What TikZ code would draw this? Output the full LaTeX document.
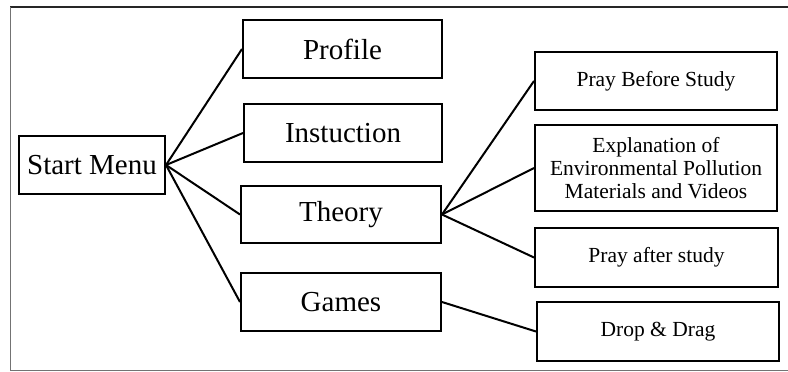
\documentclass[tikz,border=0pt]{standalone}
\usepackage{fontspec}
\setmainfont{Liberation Serif}
\begin{document}
\begin{tikzpicture}[x=1pt,y=-1pt,
  box/.style={draw=black,line width=2pt,rectangle,inner sep=0pt,align=center},
  big/.style={box,font=\fontsize{29}{33}\selectfont},
  small/.style={box,font=\fontsize{21.5}{23.3}\selectfont},
  conn/.style={line width=2pt,black}]
\useasboundingbox (0,0) rectangle (788,372);
\draw[black!85,line width=1.6pt] (10,7) -- (800,7);
\draw[black!55,line width=1pt] (10,7) -- (10,370) -- (800,370);
\node[big,minimum width=146pt,minimum height=58pt] (start) at (92,165) {Start Menu};
\node[big,minimum width=199pt,minimum height=58pt] (profile) at (342.5,49) {Profile};
\node[big,minimum width=198pt,minimum height=58pt] (instr) at (343,133) {Instuction};
\node[big,minimum width=200pt,minimum height=57pt] (theory) at (341,214.5) {Theory};
\node[big,minimum width=200pt,minimum height=58pt] (games) at (341,302) {Games};
\node[small,minimum width=242pt,minimum height=58pt] (pbs) at (656,81) {Pray Before Study};
\node[small,minimum width=242pt,minimum height=86pt] (expl) at (656,168) {Explanation of\\Environmental Pollution\\Materials and Videos};
\node[small,minimum width=243pt,minimum height=59pt] (pas) at (656.5,257.5) {Pray after study};
\node[small,minimum width=242pt,minimum height=59pt] (dd) at (658,331.5) {Drop \& Drag};
\draw[conn] (start.east) -- (profile.west);
\draw[conn] (start.east) -- (instr.west);
\draw[conn] (start.east) -- (theory.west);
\draw[conn] (start.east) -- (games.west);
\draw[conn] (theory.east) -- (pbs.west);
\draw[conn] (theory.east) -- (expl.west);
\draw[conn] (theory.east) -- (pas.west);
\draw[conn] (games.east) -- (dd.west);
\end{tikzpicture}
\end{document}
